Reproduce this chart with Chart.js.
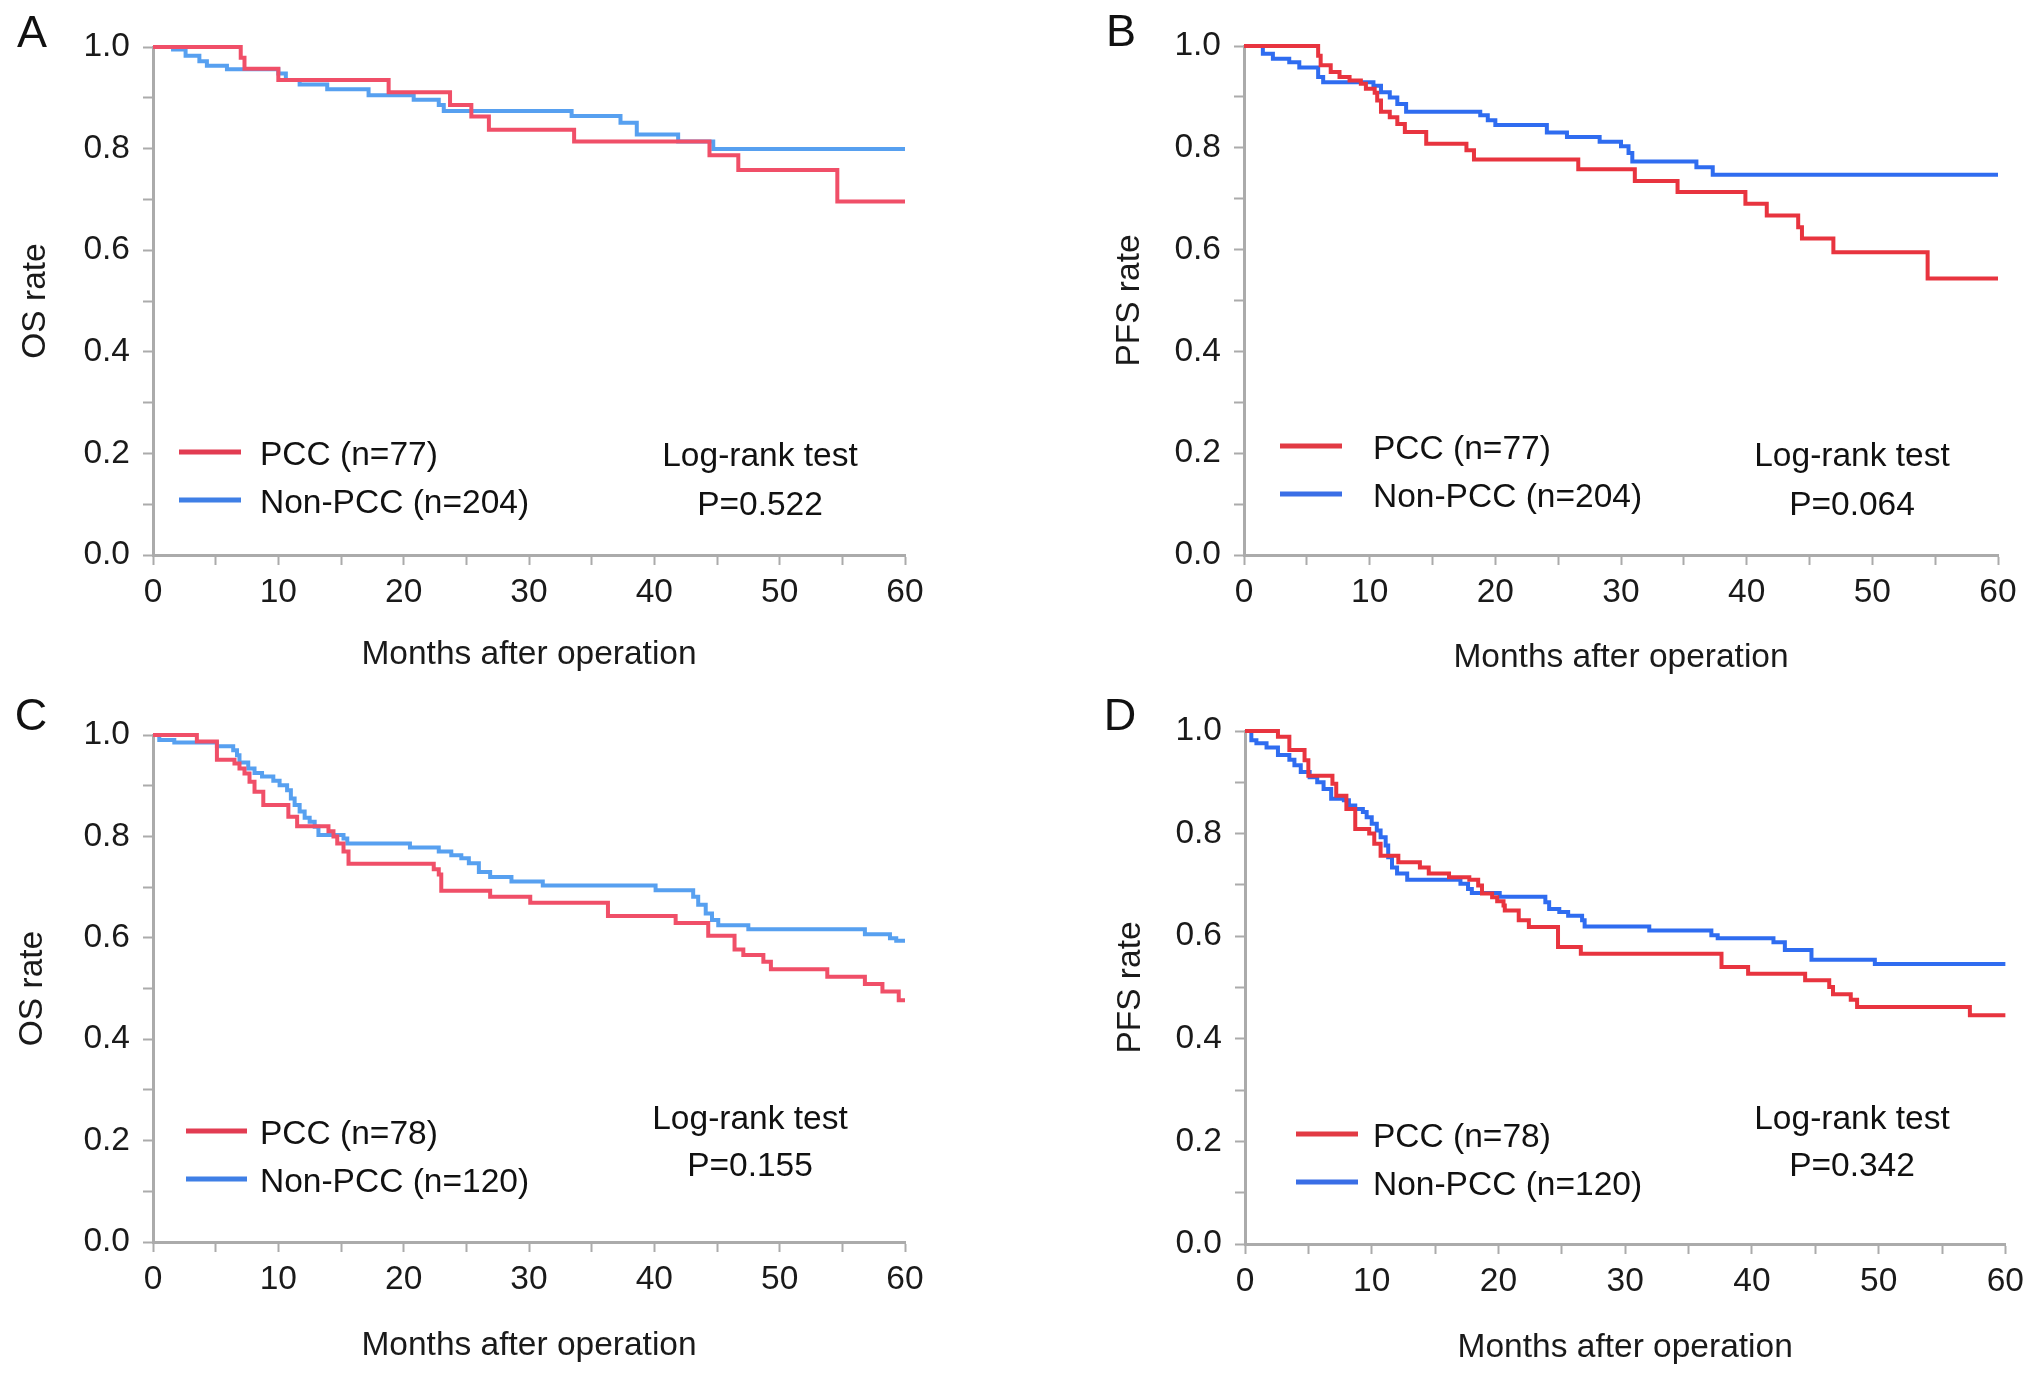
<!DOCTYPE html>
<html>
<head>
<meta charset="utf-8">
<title>Survival curves PCC vs Non-PCC</title>
<script src="https://cdn.jsdelivr.net/npm/chart.js@4.4.0/dist/chart.umd.min.js"></script>
<style>
  body { margin: 0; background: #fff; }
  canvas { position: absolute; }
</style>
</head>
<body>
<canvas id="chartA" width="1016" height="690" style="left:0;top:0"></canvas>
<canvas id="chartB" width="1016" height="690" style="left:1016px;top:0"></canvas>
<canvas id="chartC" width="1016" height="690" style="left:0;top:685px"></canvas>
<canvas id="chartD" width="1016" height="690" style="left:1016px;top:685px"></canvas>
<script>
// tick labels
const monthTicks = [0, 10, 20, 30, 40, 50, 60];
const rateTicks = [0.0, 0.2, 0.4, 0.6, 0.8, 1.0];

// A: OS, first cohort
const aPccMonths = [0, 7.0, 7.3, 10.0, 18.8, 23.7, 25.4, 26.8, 33.6, 44.4, 46.7, 54.6, 60];
const aPccRate   = [1, 0.979, 0.957, 0.935, 0.911, 0.886, 0.863, 0.837, 0.814, 0.787, 0.758, 0.696, 0.696];
const aNonMonths = [0, 1.6, 2.6, 3.7, 4.3, 5.9, 10.0, 10.6, 11.7, 13.9, 17.2, 20.8, 22.8, 23.2, 33.4, 37.3, 38.6, 41.9, 44.7, 60];
const aNonRate   = [1, 0.995, 0.983, 0.972, 0.963, 0.956, 0.948, 0.935, 0.926, 0.917, 0.905, 0.896, 0.886, 0.874, 0.864, 0.851, 0.828, 0.814, 0.799, 0.799];

// B: PFS, first cohort
const bPccMonths = [0, 5.9, 6.1, 6.9, 7.6, 8.4, 9.3, 9.7, 10.4, 10.6, 10.9, 11.6, 12.2, 12.8, 14.5, 17.7, 18.3, 26.6, 31.1, 34.5, 39.9, 41.6, 44.1, 44.4, 46.9, 54.4, 60];
const bPccRate   = [1, 0.981, 0.962, 0.949, 0.939, 0.932, 0.926, 0.916, 0.908, 0.893, 0.871, 0.860, 0.847, 0.831, 0.808, 0.795, 0.777, 0.758, 0.735, 0.713, 0.690, 0.667, 0.644, 0.622, 0.595, 0.543, 0.543];
const bNonMonths = [0, 1.5, 2.3, 3.6, 4.4, 5.9, 6.3, 10.3, 10.9, 11.6, 12.2, 12.9, 18.8, 19.4, 20.0, 24.1, 25.7, 28.3, 30.0, 30.6, 30.9, 36.0, 37.3, 60];
const bNonRate   = [1, 0.985, 0.975, 0.968, 0.958, 0.939, 0.929, 0.922, 0.909, 0.899, 0.886, 0.871, 0.864, 0.854, 0.845, 0.830, 0.821, 0.812, 0.803, 0.790, 0.773, 0.762, 0.747, 0.747];

// C: OS, second cohort
const cPccMonths = [0, 3.5, 5.1, 6.5, 6.9, 7.3, 7.7, 8.1, 8.8, 10.8, 11.5, 14.0, 14.4, 14.7, 15.2, 15.6, 22.4, 22.8, 23.0, 26.9, 30.1, 36.3, 41.7, 44.3, 46.4, 47.1, 48.7, 49.3, 53.8, 56.8, 58.2, 59.5, 60];
const cPccRate   = [1, 0.987, 0.951, 0.944, 0.934, 0.924, 0.908, 0.888, 0.862, 0.839, 0.820, 0.810, 0.800, 0.786, 0.770, 0.746, 0.735, 0.725, 0.693, 0.681, 0.669, 0.643, 0.629, 0.604, 0.577, 0.566, 0.553, 0.538, 0.523, 0.509, 0.494, 0.477, 0.477];
const cNonMonths = [0, 0.5, 1.7, 5.1, 6.4, 6.7, 6.9, 7.6, 8.1, 8.7, 9.6, 10.1, 10.7, 11.0, 11.3, 11.7, 12.1, 12.5, 12.9, 13.2, 15.2, 15.5, 20.5, 22.8, 23.8, 24.6, 25.2, 26.0, 26.9, 28.6, 31.1, 40.1, 43.1, 43.5, 44.1, 44.6, 45.1, 47.5, 56.8, 58.8, 59.3, 60];
const cNonRate   = [1, 0.990, 0.985, 0.978, 0.970, 0.960, 0.946, 0.934, 0.925, 0.918, 0.910, 0.901, 0.891, 0.875, 0.862, 0.849, 0.837, 0.829, 0.819, 0.803, 0.796, 0.786, 0.778, 0.770, 0.763, 0.757, 0.747, 0.730, 0.720, 0.711, 0.703, 0.694, 0.681, 0.665, 0.648, 0.635, 0.625, 0.617, 0.607, 0.599, 0.594, 0.594];

// D: PFS, second cohort
const dPccMonths = [0, 2.6, 3.5, 4.7, 5.0, 6.9, 7.2, 8.0, 8.7, 9.8, 10.2, 10.7, 12.1, 13.8, 14.5, 16.1, 17.7, 18.4, 18.7, 19.5, 19.9, 20.4, 20.5, 21.6, 22.4, 24.7, 26.5, 37.6, 39.7, 44.2, 46.1, 46.4, 47.8, 48.3, 57.2, 60];
const dPccRate   = [1, 0.989, 0.963, 0.943, 0.913, 0.897, 0.874, 0.848, 0.809, 0.800, 0.780, 0.757, 0.744, 0.734, 0.722, 0.715, 0.710, 0.699, 0.683, 0.676, 0.668, 0.660, 0.650, 0.631, 0.618, 0.579, 0.566, 0.540, 0.527, 0.514, 0.501, 0.487, 0.476, 0.462, 0.446, 0.446];
const dNonMonths = [0, 0.5, 0.9, 1.7, 2.6, 3.5, 3.9, 4.4, 5.1, 5.7, 6.2, 6.8, 7.8, 8.2, 8.7, 9.3, 9.6, 10.0, 10.4, 10.7, 11.1, 11.3, 11.6, 12.0, 12.8, 17.0, 17.6, 17.9, 20.1, 23.7, 24.0, 24.8, 25.5, 26.6, 26.8, 31.9, 36.8, 37.3, 41.7, 42.6, 44.7, 49.7, 60];
const dNonRate   = [1, 0.982, 0.976, 0.968, 0.953, 0.944, 0.933, 0.920, 0.910, 0.900, 0.887, 0.868, 0.865, 0.855, 0.848, 0.842, 0.832, 0.819, 0.806, 0.793, 0.777, 0.754, 0.734, 0.722, 0.710, 0.702, 0.692, 0.684, 0.677, 0.666, 0.653, 0.647, 0.640, 0.631, 0.619, 0.611, 0.602, 0.596, 0.588, 0.573, 0.554, 0.546, 0.546];

const FONT = "'Liberation Sans', Arial, Helvetica, sans-serif";
const FS = 33.5;               // text size used for ticks, titles, legend
const LH = FS * 1.2;           // chart.js default line height
const W = 1016, H = 690;
Chart.defaults.font.family = FONT;
Chart.defaults.color = '#1a1a1a';

function toPoints(xs, ys) {
  return xs.map((x, i) => ({ x: x, y: ys[i] }));
}

// draws panel letter, legend and log-rank text
const panelNotes = {
  id: 'panelNotes',
  afterDraw(chart, args, o) {
    const c = chart.ctx;
    c.save();
    c.fillStyle = '#111';
    c.textBaseline = 'middle';
    c.font = '45px ' + FONT;
    c.textAlign = 'center';
    c.fillText(o.letter, o.letterX, o.letterY);

    c.font = FS + 'px ' + FONT;
    c.lineWidth = 5;
    o.legend.forEach((item, i) => {
      c.strokeStyle = item.color;
      c.beginPath();
      c.moveTo(o.lineX1, o.legendY[i]);
      c.lineTo(o.lineX2, o.legendY[i]);
      c.stroke();
      c.textAlign = 'left';
      c.fillText(item.text, o.textX, o.legendY[i] + 4);
    });

    c.textAlign = 'center';
    c.fillText('Log-rank test', o.testX, o.testY[0]);
    c.fillText(o.pValue, o.testX, o.testY[1]);
    c.restore();
  }
};

function makePanel(id, p) {
  const padLeft = p.yTitleX - LH / 2 - 4;
  const axisGrey = '#ababab';
  new Chart(document.getElementById(id).getContext('2d'), {
    type: 'line',
    data: {
      datasets: [
        { label: p.notes.legend[0].text, data: toPoints(p.pccX, p.pccY), borderColor: p.red,
          borderWidth: 4, stepped: true, pointRadius: 0, fill: false, clip: false, order: 0 },
        { label: p.notes.legend[1].text, data: toPoints(p.nonX, p.nonY), borderColor: p.blue,
          borderWidth: 4, stepped: true, pointRadius: 0, fill: false, clip: false, order: 1 }
      ]
    },
    options: {
      responsive: false,
      animation: false,
      layout: { padding: { left: padLeft, top: p.area.top, right: W - p.area.right, bottom: 0 } },
      plugins: {
        legend: { display: false },
        tooltip: { enabled: false },
        panelNotes: p.notes
      },
      scales: {
        x: {
          type: 'linear', min: 0, max: 60,
          grid: { drawOnChartArea: false, drawTicks: true, tickLength: 10, tickColor: axisGrey, tickWidth: 2 },
          border: { display: true, color: axisGrey, width: 3 },
          ticks: {
            stepSize: 5, autoSkip: false, maxRotation: 0, padding: 8,
            font: { size: FS }, color: '#1a1a1a',
            callback: v => monthTicks.includes(v) ? String(v) : ''
          },
          title: { display: true, text: 'Months after operation', font: { size: FS },
                   color: '#1a1a1a', padding: { top: 0, bottom: H - LH / 2 - p.xTitleY } },
          afterFit(s) { s.height = H - p.area.bottom; }
        },
        y: {
          min: 0, max: 1,
          grid: { drawOnChartArea: false, drawTicks: true, tickLength: 10, tickColor: axisGrey, tickWidth: 2 },
          border: { display: true, color: axisGrey, width: 3 },
          ticks: {
            stepSize: 0.1, autoSkip: false, padding: 13,
            font: { size: FS }, color: '#1a1a1a',
            callback: v => {
              const hit = rateTicks.find(t => Math.abs(t - v) < 1e-6);
              return hit === undefined ? '' : hit.toFixed(1);
            }
          },
          title: { display: true, text: p.yTitle, font: { size: FS }, color: '#1a1a1a',
                   padding: { top: 4, bottom: 0 } },
          afterFit(s) { s.width = p.area.left - padLeft; }
        }
      }
    },
    plugins: [panelNotes]
  });
}

const softRed = '#f04f68', softBlue = '#57a0f0';
const deepRed = '#e8343f', deepBlue = '#2f6cf0';

makePanel('chartA', {
  area: { left: 153, right: 905, top: 47, bottom: 555 },
  yTitle: 'OS rate', yTitleX: 36, xTitleY: 655,
  pccX: aPccMonths, pccY: aPccRate, nonX: aNonMonths, nonY: aNonRate,
  red: softRed, blue: softBlue,
  notes: {
    letter: 'A', letterX: 32, letterY: 35,
    legend: [{ text: 'PCC (n=77)', color: '#e23c52' }, { text: 'Non-PCC (n=204)', color: '#3f7fe6' }],
    lineX1: 179, lineX2: 241, textX: 260, legendY: [452, 500],
    testX: 760, testY: [457, 506], pValue: 'P=0.522'
  }
});

makePanel('chartB', {
  area: { left: 228, right: 982, top: 46, bottom: 555 },
  yTitle: 'PFS rate', yTitleX: 114, xTitleY: 658,
  pccX: bPccMonths, pccY: bPccRate, nonX: bNonMonths, nonY: bNonRate,
  red: deepRed, blue: deepBlue,
  notes: {
    letter: 'B', letterX: 105, letterY: 34,
    legend: [{ text: 'PCC (n=77)', color: '#e23a44' }, { text: 'Non-PCC (n=204)', color: '#3a6ee6' }],
    lineX1: 264, lineX2: 326, textX: 357, legendY: [446, 494],
    testX: 836, testY: [457, 506], pValue: 'P=0.064'
  }
});

makePanel('chartC', {
  area: { left: 153, right: 905, top: 50, bottom: 557 },
  yTitle: 'OS rate', yTitleX: 33, xTitleY: 661,
  pccX: cPccMonths, pccY: cPccRate, nonX: cNonMonths, nonY: cNonRate,
  red: softRed, blue: softBlue,
  notes: {
    letter: 'C', letterX: 31, letterY: 33,
    legend: [{ text: 'PCC (n=78)', color: '#e23c52' }, { text: 'Non-PCC (n=120)', color: '#3f7fe6' }],
    lineX1: 186, lineX2: 247, textX: 260, legendY: [446, 494],
    testX: 750, testY: [435, 482], pValue: 'P=0.155'
  }
});

makePanel('chartD', {
  area: { left: 229, right: 990, top: 46, bottom: 559 },
  yTitle: 'PFS rate', yTitleX: 115, xTitleY: 663,
  pccX: dPccMonths, pccY: dPccRate, nonX: dNonMonths, nonY: dNonRate,
  red: deepRed, blue: deepBlue,
  notes: {
    letter: 'D', letterX: 104, letterY: 33,
    legend: [{ text: 'PCC (n=78)', color: '#e23a44' }, { text: 'Non-PCC (n=120)', color: '#3a6ee6' }],
    lineX1: 280, lineX2: 342, textX: 357, legendY: [449, 497],
    testX: 836, testY: [435, 482], pValue: 'P=0.342'
  }
});
</script>
</body>
</html>
